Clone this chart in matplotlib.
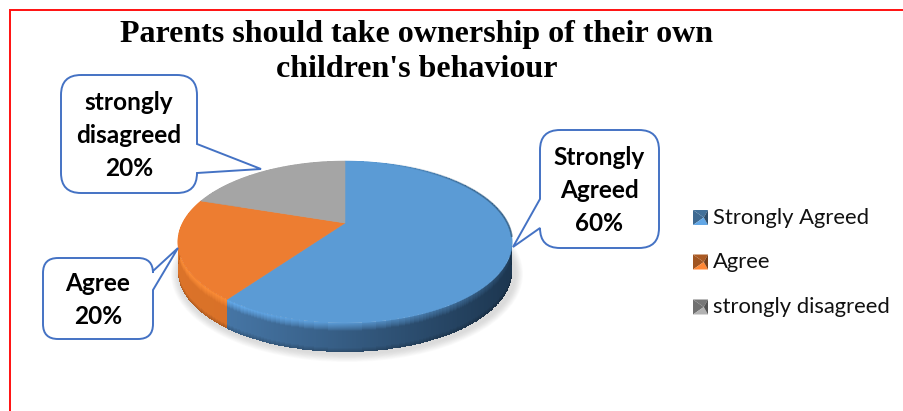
import numpy as np
import matplotlib
matplotlib.use("Agg")
import matplotlib.pyplot as plt
from matplotlib.colors import to_rgb
from matplotlib.patches import Polygon, PathPatch, Ellipse
from matplotlib.path import Path

# Survey responses
categories = ["Strongly Agreed", "Agree", "strongly disagreed"]
shares = [60, 20, 20]
callout_labels = ["Strongly\nAgreed\n60%", "Agree\n20%", "strongly\ndisagreed\n20%"]
title_lines = "Parents should take ownership of their own\nchildren's behaviour"

face_colors = ["#5B9BD5", "#ED7D31", "#A5A5A5"]
rim_left = [np.array(c) for c in ([0.30, 0.50, 0.70], [0.86, 0.45, 0.16], [0.55, 0.55, 0.55])]
rim_right = [np.array(c) for c in ([0.11, 0.21, 0.31], [0.78, 0.40, 0.14], [0.45, 0.45, 0.45])]

W, H = 904, 411
fig = plt.figure(figsize=(W / 100, H / 100), dpi=100)
ax = fig.add_axes([0, 0, 1, 1])
ax.set_xlim(0, W)
ax.set_ylim(H, 0)
ax.axis("off")

# Page frame
ax.plot([10.5, 10.5, W], [H, 10.5, 10.5], color="#FF1010", lw=1.4, solid_joinstyle="miter", zorder=1)

# Tilted-disc projection: pivot, radii and perspective strength
PX, PY, RX, RY, K, DEPTH = 345.0, 223.0, 162.5, 76.5, 0.2346, 29.0


def project(theta):
    """Map clockwise-from-top angle (radians) on the disc to canvas coordinates."""
    u, v = np.sin(theta), np.cos(theta)
    w = 1.0 / (1.0 + K * v)
    return PX + RX * u * w, PY - RY * v * w


fractions = np.array(shares, dtype=float) / sum(shares)
edges = np.concatenate([[0], np.cumsum(fractions)]) * 2 * np.pi

# Soft ground shadow
for i in range(10):
    ax.add_patch(Ellipse((347, 274), 2 * 172 + 8 - i * 1.6, 2 * 84 + 8 - i * 1.6,
                         fc="#8a8a8a", ec="none", alpha=0.03, zorder=2))


def side_color(i, x, d):
    """Rim shade for arrays x and d: horizontal ramp plus a bright bevel on the upper lip."""
    t = np.clip((x - 177) / 337.0, 0, 1)[..., None] ** 1.05
    base = rim_left[i] * (1 - t) + rim_right[i] * t
    top = np.array(to_rgb(face_colors[i]))
    fade = np.clip(1 - t, 0, 1) ** 0.6
    lip = np.clip(top * 1.15, 0, 1) * fade + base * (1 - fade)
    mix = np.clip(1 - d / 0.27, 0, 1)[..., None] ** 0.8
    out = base * (1 - mix) + lip * mix
    bottom = np.clip((d - 0.85) / 0.15, 0, 1)[..., None]
    return np.clip(out * (1 - 0.2 * bottom), 0, 1)


# Extruded rim, one mesh for each slice
for i in range(len(shares)):
    th = np.linspace(edges[i], edges[i + 1], 400)
    d = np.linspace(0, 1, 30)
    xr, yr = project(th)
    X = np.repeat(xr[None, :], d.size, axis=0)
    Y = yr[None, :] + d[:, None] * DEPTH
    xc = 0.5 * (X[:-1, :-1] + X[1:, 1:])
    dc = 0.5 * (d[:-1] + d[1:])[:, None] * np.ones((1, th.size - 1))
    ax.pcolormesh(X, Y, side_color(i, xc, dc), shading="flat", zorder=3,
                  antialiased=False, edgecolor="none", linewidth=0)

# Top faces
for i in range(len(shares)):
    th = np.linspace(edges[i], edges[i + 1], 240)
    xr, yr = project(th)
    pts = np.column_stack([np.r_[PX, xr], np.r_[PY, yr]])
    ax.add_patch(Polygon(pts, closed=True, fc=face_colors[i], ec=face_colors[i], lw=0.4, zorder=4))

# Darkening along the far right of the top face edge
th = np.linspace(np.radians(15), np.radians(100), 80)
xr, yr = project(th)
for j in range(len(th) - 1):
    ax.plot(xr[j:j + 2], yr[j:j + 2], color="#2F5577",
            alpha=float(np.sin((th[j] - th[0]) / (th[-1] - th[0]) * np.pi / 2)) * 0.7,
            lw=1.4, zorder=5, solid_capstyle="butt")


def callout(x0, y0, x1, y1, r, side, a, b, tip):
    """Rounded box with a pointer leaving one side between offsets a and b."""
    v = [(x0 + r, y0)]
    c = [Path.MOVETO]

    def corner(ctrl, end):
        v.extend([ctrl, end])
        c.extend([Path.CURVE3, Path.CURVE3])

    def line(p):
        v.append(p)
        c.append(Path.LINETO)

    line((x1 - r, y0))
    corner((x1, y0), (x1, y0 + r))
    if side == "right":
        line((x1, a)); line(tip); line((x1, b))
    line((x1, y1 - r))
    corner((x1, y1), (x1 - r, y1))
    line((x0 + r, y1))
    corner((x0, y1), (x0, y1 - r))
    if side == "left":
        line((x0, b)); line(tip); line((x0, a))
    line((x0, y0 + r))
    corner((x0, y0), (x0 + r, y0))
    ax.add_patch(PathPatch(Path(v, c), fc="white", ec="#4472C4", lw=1.4, zorder=6, joinstyle="miter"))
    return (x0 + x1) / 2, (y0 + y1) / 2


boxes = [
    (540, 130, 659, 248, 20, "left", 199, 228, (513, 247)),
    (43, 258, 153, 339, 15, "right", 271, 290, (178, 248)),
    (61, 75, 197, 193, 20, "right", 144, 173, (261, 169)),
]
for box, label in zip(boxes, callout_labels):
    cx, cy = callout(*box)
    ax.text(cx, cy + 1.5, label, ha="center", va="center", family="Lato", weight="bold",
            fontsize=17.6, linespacing=1.52, color="black", zorder=7)

# Title
ax.text(417, 52, title_lines, ha="center", va="center", family="Liberation Serif",
        weight="bold", fontsize=23, linespacing=1.27, color="black", zorder=7)

# Legend with bevelled swatches
legend_y = [217.5, 262, 307]
for name, col, y in zip(categories, face_colors, legend_y):
    rgb = np.array(to_rgb(col))
    x0, x1, y0, y1 = 693, 708, y - 7.5, y + 7.5
    mx, my = x0 + 0.72 * (x1 - x0), (y0 + y1) / 2
    tris = [[(x0, y0), (x0, y1), (mx, my)], [(x0, y0), (x1, y0), (mx, my)],
            [(x0, y1), (x1, y1), (mx, my)], [(x1, y0), (x1, y1), (mx, my)]]
    for tri, s in zip(tris, (0.68, 0.72, 1.08, 0.5)):
        ax.add_patch(Polygon(tri, closed=True, fc=np.clip(rgb * s, 0, 1), ec="none", zorder=6))
    ax.text(713, y, name, ha="left", va="center", family="Lato", fontsize=15.8, color="#111111", zorder=7)

fig.savefig("out.png", dpi=100, facecolor="white")
